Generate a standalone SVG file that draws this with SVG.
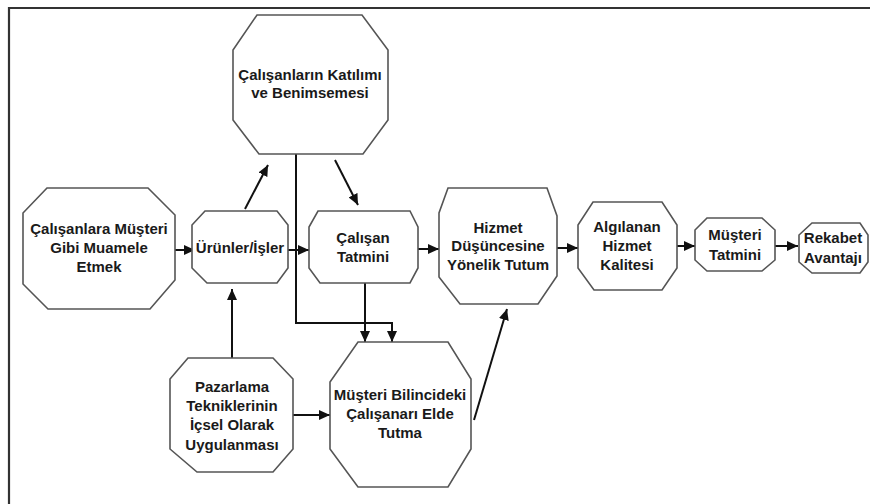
<svg xmlns="http://www.w3.org/2000/svg" width="870" height="504" viewBox="0 0 870 504">
<style>
.n{fill:#fff;stroke:#555;stroke-width:1.6}
.t{font-family:"Liberation Sans",Arial,sans-serif;font-weight:bold;font-size:15px;fill:#1a1a1a;text-anchor:middle}
.c{fill:none;stroke:#111;stroke-width:2}
.f{fill:none;stroke:#333;stroke-width:2.2}
</style>
<defs>
<marker id="ah" markerUnits="userSpaceOnUse" markerWidth="12" markerHeight="10" refX="11" refY="5" orient="auto">
<path d="M0,0 L11,5 L0,10 Z" fill="#111"/>
</marker>
</defs>
<rect width="870" height="504" fill="#fff"/>
<path class="f" d="M9,504 L9,8 L870,8"/>
<g id="connectors">
<line class="c" x1="175" y1="250" x2="195" y2="250" marker-end="url(#ah)"/>
<line class="c" x1="288" y1="250" x2="309" y2="250" marker-end="url(#ah)"/>
<line class="c" x1="418" y1="249" x2="439" y2="249" marker-end="url(#ah)"/>
<line class="c" x1="557" y1="248" x2="578" y2="248" marker-end="url(#ah)"/>
<line class="c" x1="677" y1="246" x2="695" y2="246" marker-end="url(#ah)"/>
<line class="c" x1="775" y1="246" x2="798" y2="246" marker-end="url(#ah)"/>
<line class="c" x1="245" y1="209" x2="268" y2="165" marker-end="url(#ah)"/>
<line class="c" x1="335" y1="160" x2="358" y2="205" marker-end="url(#ah)"/>
<polyline class="c" points="296,154 296,323 392,323 392,342" marker-end="url(#ah)"/>
<line class="c" x1="365" y1="283" x2="365" y2="342" marker-end="url(#ah)"/>
<line class="c" x1="232" y1="358" x2="232" y2="289" marker-end="url(#ah)"/>
<line class="c" x1="293" y1="415" x2="330" y2="415" marker-end="url(#ah)"/>
<line class="c" x1="474" y1="420" x2="507" y2="309" marker-end="url(#ah)"/>
</g>
<g id="n1">
<polygon class="n" points="257,15 362,15 388,50 388,120 363,154 259,154 233,120 233,50"/>
<text class="t" x="310" y="80">Çalışanların Katılımı</text>
<text class="t" x="310" y="98">ve Benimsemesi</text>
</g>
<g id="n2">
<polygon class="n" points="47,188 148,188 175,215 175,280 150,309 48,309 23,284 23,213"/>
<text class="t" x="99" y="234">Çalışanlara Müşteri</text>
<text class="t" x="99" y="253">Gibi Muamele</text>
<text class="t" x="99" y="272">Etmek</text>
</g>
<g id="n3">
<polygon class="n" points="205,211 277,211 288,225 288,268 277,283 207,283 192,268 192,225"/>
<text class="t" x="240" y="253">Ürünler/İşler</text>
</g>
<g id="n4">
<polygon class="n" points="318,211 410,211 418,227 418,268 410,283 320,283 309,268 309,227"/>
<text class="t" x="363" y="243">Çalışan</text>
<text class="t" x="363" y="262">Tatmini</text>
</g>
<g id="n5">
<polygon class="n" points="448,188 547,188 557,216 557,276 538,304 460,304 439,277 439,213"/>
<text class="t" x="498" y="233">Hizmet</text>
<text class="t" x="498" y="251">Düşüncesine</text>
<text class="t" x="498" y="270">Yönelik Tutum</text>
</g>
<g id="n6">
<polygon class="n" points="593,202 662,202 677,225 677,268 662,290 594,290 578,268 578,225"/>
<text class="t" x="627" y="232">Algılanan</text>
<text class="t" x="627" y="251">Hizmet</text>
<text class="t" x="627" y="270">Kalitesi</text>
</g>
<g id="n7">
<polygon class="n" points="707,218 762,218 775,230 775,260 762,271 707,271 695,260 695,230"/>
<text class="t" x="735" y="240">Müşteri</text>
<text class="t" x="735" y="260">Tatmini</text>
</g>
<g id="n8">
<polygon class="n" points="812,223 860,223 868,235 868,262 860,273 812,273 799,262 799,235"/>
<text class="t" x="833" y="243">Rekabet</text>
<text class="t" x="833" y="263">Avantajı</text>
</g>
<g id="n9">
<polygon class="n" points="188,358 273,358 293,379 293,449 273,472 197,472 170,449 170,379"/>
<text class="t" x="232" y="392">Pazarlama</text>
<text class="t" x="232" y="411">Tekniklerinin</text>
<text class="t" x="232" y="430">İçsel Olarak</text>
<text class="t" x="232" y="450">Uygulanması</text>
</g>
<g id="n10">
<polygon class="n" points="358,342 448,342 471,379 471,449 448,487 358,487 330,449 330,382"/>
<text class="t" x="400" y="400">Müşteri Bilincideki</text>
<text class="t" x="400" y="419">Çalışanarı Elde</text>
<text class="t" x="400" y="438">Tutma</text>
</g>
</svg>
